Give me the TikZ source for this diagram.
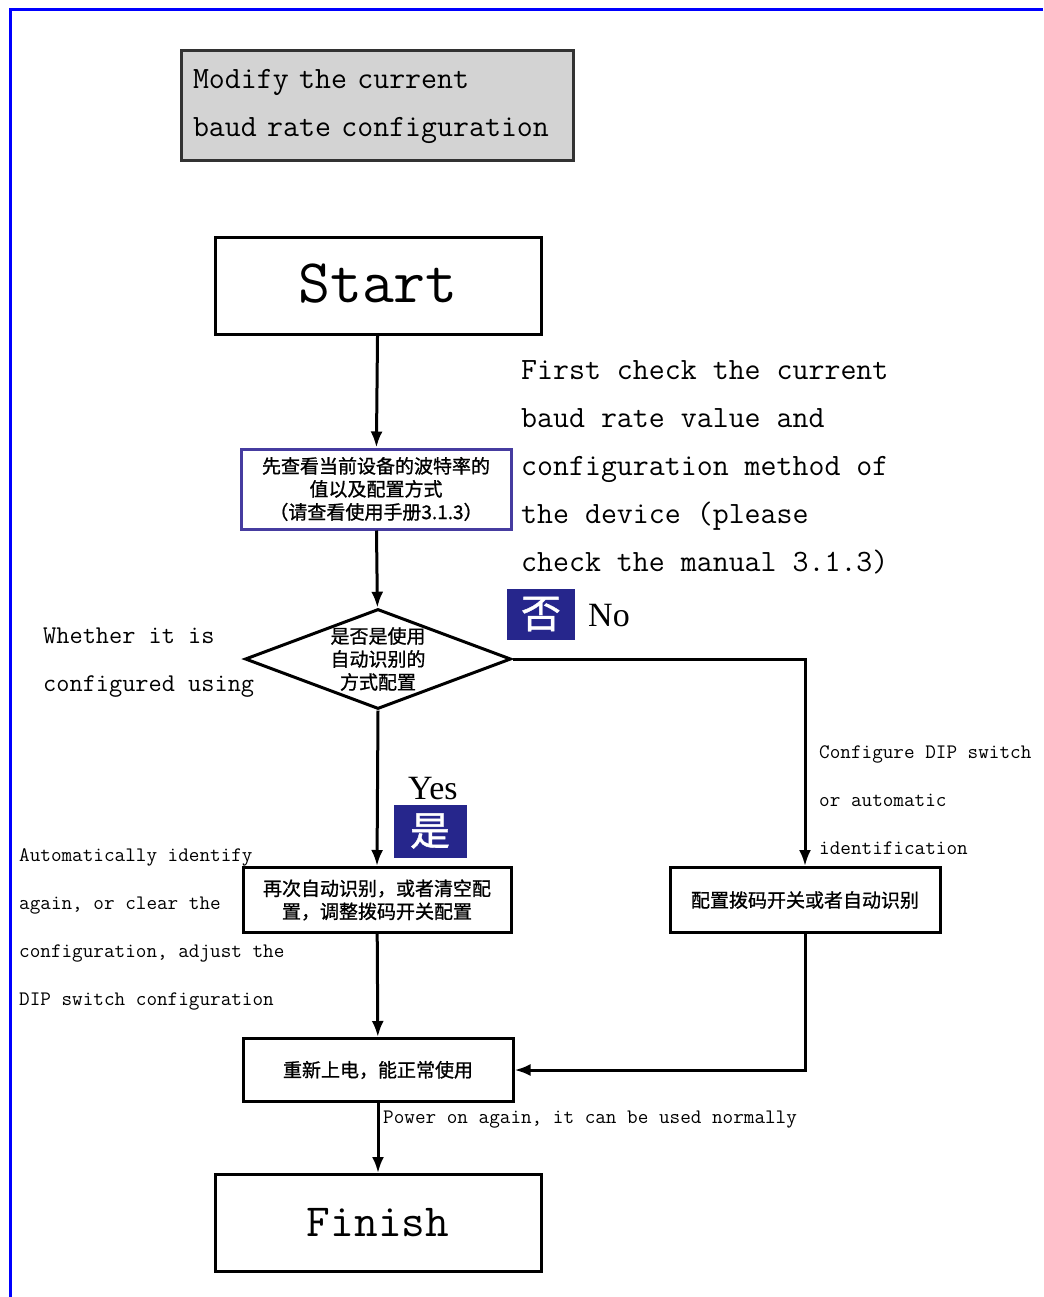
\documentclass[tikz,border=0pt]{standalone}
\usepackage{fontspec}
\newfontfamily\cjk[FakeBold=1]{Noto Sans CJK SC}
\newfontfamily\ynfont{Liberation Serif}
\usetikzlibrary{arrows.meta,shapes.geometric}

\tikzset{
  stepbox/.style={draw, line width=3pt, inner sep=0pt, align=center,
    font=\cjk\fontsize{19}{23}\selectfont},
  bigbox/.style={draw, line width=3pt, minimum width=326, inner sep=0pt,
    font=\ttfamily\fontsize{62}{62}\selectfont},
  flow/.style={-{Latex[length=16pt,width=12pt]}, line width=3pt},
  note/.style={anchor=north west, inner sep=0pt, align=left},
  tag/.style={fill=mydarkblue, text=white, inner sep=0pt,
    font=\cjk\fontsize{40}{40}\selectfont},
}

\begin{document}
\begin{tikzpicture}[x=1pt, y=-1pt]

    \definecolor{myblue}{RGB}{0, 0, 255}
    \definecolor{mypurple}{RGB}{70, 60, 160}
    \definecolor{mydarkblue}{RGB}{38, 38, 140}
    \definecolor{mygray}{RGB}{211, 211, 211}
    \definecolor{myframe}{RGB}{50, 50, 50}

    \useasboundingbox (0,0) rectangle (1043,1297);

    % frame
    \draw [myblue, line width=3pt] (1043,10) -- (10,10) -- (10,1297);

    % title
    \node [draw=myframe, fill=mygray, line width=3pt, minimum width=392, minimum height=110,
      inner xsep=12pt, text width=368, align=left, font=\ttfamily\fontsize{31}{48}\selectfont]
      (title) at (377,106) {Modify the current\\baud rate configuration};

    % boxes
    \node [bigbox, minimum height=96] (start) at (378,286) {\raisebox{5pt}{Start}};
    \node [stepbox, draw=mypurple, minimum width=270, minimum height=80] (check) at (376,489)
      {先查看当前设备的波特率的\\值以及配置方式\\（请查看使用手册3.1.3）};
    \node [stepbox, shape=diamond, shape aspect=2.66, inner sep=-2pt, minimum width=266, minimum height=100] (auto) at (378,659)
      {是否是使用\\自动识别的\\方式配置};
    \node [stepbox, minimum width=268, minimum height=65] (again) at (377,900)
      {再次自动识别，或者清空配\\置，调整拨码开关配置};
    \node [stepbox, minimum width=270, minimum height=65] (dip) at (805,900)
      {配置拨码开关或者自动识别};
    \node [stepbox, minimum width=270, minimum height=63] (power) at (378,1070)
      {重新上电，能正常使用};
    \node [bigbox, minimum height=97, font=\ttfamily\fontsize{46}{46}\selectfont] (finish) at (378,1223) {Finish};

    % arrows
    \draw [flow] (start) -- (check);
    \draw [flow] (check) -- (auto);
    \draw [flow] (auto.east) -| (dip.north);
    \draw [flow] (auto.south) -- (again.north);
    \draw [flow] (again) -- (power);
    \draw [flow] (dip.south) |- (power.east);
    \draw [flow] (power) -- (finish);

    % yes / no
    \node [tag, minimum width=68, minimum height=51] (no) at (541,614) {否};
    \node [anchor=base west, inner sep=0pt, font=\ynfont\fontsize{34}{34}\selectfont] (notext) at (588,626) {No};
    \node [tag, minimum width=73, minimum height=53] (yes) at (430,831) {是};
    \node [anchor=base west, inner sep=0pt, font=\ynfont\fontsize{34}{34}\selectfont] (yestext) at (408,799) {Yes};

    % notes
    \node [note, font=\ttfamily\fontsize{31}{48}\selectfont] (checknote) at (521,360)
      {First check the current\\baud rate value and\\configuration method of\\the device (please\\check the manual 3.1.3)};
    \node [note, font=\ttfamily\fontsize{25.6}{48}\selectfont] (autonote) at (43,628)
      {Whether it is\\configured using};
    \node [note, font=\ttfamily\fontsize{20.6}{48}\selectfont] (dipnote) at (819,745)
      {Configure DIP switch\\or automatic\\identification};
    \node [note, font=\ttfamily\fontsize{20.6}{48}\selectfont] (againnote) at (19,848)
      {Automatically identify\\again, or clear the\\configuration, adjust the\\DIP switch configuration};
    \node [note, font=\ttfamily\fontsize{20.6}{48}\selectfont] (powernote) at (383,1111)
      {Power on again, it can be used normally};

\end{tikzpicture}
\end{document}
